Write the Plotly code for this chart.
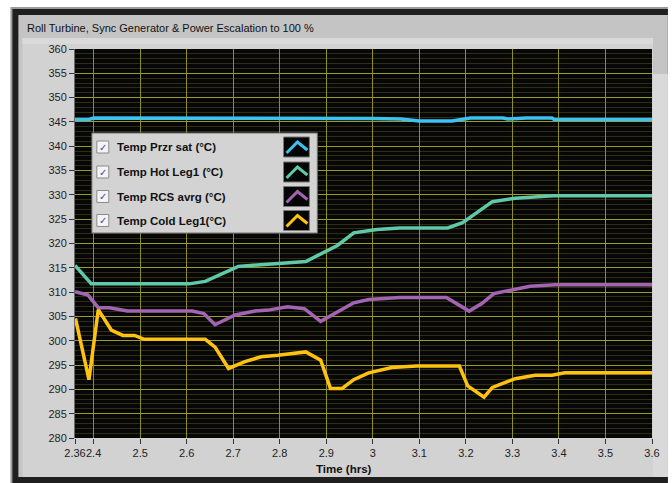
import plotly.graph_objects as go

# ---------------- data ----------------
series_names = ["Temp Przr sat (°C)", "Temp Hot Leg1 (°C)", "Temp RCS avrg (°C)", "Temp Cold Leg1(°C)"]
series_colors = ["#3cc3f2", "#5fc9a9", "#a464b4", "#ffc20e"]

przr_t = [2.36, 2.39, 2.40, 2.99, 3.00, 3.06, 3.10, 3.17, 3.21, 3.28, 3.29, 3.33, 3.385, 3.39, 3.60]
przr_v = [345.5, 345.5, 345.8, 345.8, 345.7, 345.6, 345.2, 345.2, 345.8, 345.8, 345.6, 345.8, 345.8, 345.5, 345.5]

hot_t = [2.36, 2.395, 2.605, 2.64, 2.711, 2.856, 2.924, 2.959, 3.009, 3.058, 3.161, 3.193, 3.257, 3.306, 3.388, 3.60]
hot_v = [315.5, 311.7, 311.7, 312.2, 315.3, 316.3, 319.6, 322.2, 322.9, 323.2, 323.2, 324.3, 328.6, 329.3, 329.8, 329.8]

rcs_t = [2.36, 2.388, 2.41, 2.434, 2.473, 2.612, 2.637, 2.661, 2.704, 2.747, 2.775, 2.817, 2.853,
         2.888, 2.959, 2.991, 3.058, 3.158, 3.207, 3.235, 3.26, 3.293, 3.338, 3.392, 3.60]
rcs_v = [310.1, 309.4, 306.8, 306.8, 306.1, 306.1, 305.6, 303.3, 305.3, 306.1, 306.3, 307.0, 306.6,
         304.0, 307.8, 308.5, 308.9, 308.9, 306.1, 307.7, 309.7, 310.4, 311.2, 311.5, 311.5]

cold_t = [2.361, 2.39, 2.41, 2.438, 2.463, 2.488, 2.509, 2.64, 2.661, 2.69, 2.725, 2.76, 2.796, 2.856,
          2.888, 2.909, 2.934, 2.959, 2.991, 3.041, 3.094, 3.186, 3.204, 3.239, 3.257, 3.306, 3.349,
          3.385, 3.413, 3.60]
cold_v = [304.6, 292.0, 306.4, 302.2, 301.1, 301.1, 300.3, 300.3, 298.7, 294.3, 295.7, 296.7, 297.0, 297.7,
          296.0, 290.2, 290.2, 292.0, 293.4, 294.5, 294.8, 294.8, 290.7, 288.4, 290.4, 292.2, 292.9,
          292.9, 293.4, 293.4]

x_tickvals = [2.36, 2.4, 2.5, 2.6, 2.7, 2.8, 2.9, 3.0, 3.1, 3.2, 3.3, 3.4, 3.5, 3.6]
x_ticktext = ["2.36", "2.4", "2.5", "2.6", "2.7", "2.8", "2.9", "3", "3.1", "3.2", "3.3", "3.4", "3.5", "3.6"]
y_tickvals = list(range(280, 361, 5))

chart_title = "Roll Turbine, Sync Generator & Power Escalation to 100 %"
x_title = "Time (hrs)"

# ---------------- geometry helpers ----------------
W, H = 672, 483
L, R, T, B = 75, 16, 49, 45
PW, PH = W - L - R, H - T - B


def px(x):
    return (x - L) / PW


def py(y):
    return (H - B - y) / PH


FONT = "Liberation Sans, Arial, sans-serif"

fig = go.Figure()
for t, v, name, col in zip([przr_t, hot_t, rcs_t, cold_t], [przr_v, hot_v, rcs_v, cold_v],
                           series_names, series_colors):
    fig.add_trace(go.Scatter(x=t, y=v, mode="lines", name=name,
                             line=dict(color=col, width=3.5), showlegend=False))

shapes = []


def rect(x0, y0, x1, y1, fill, line=None, lw=0, layer="below"):
    shapes.append(dict(type="rect", xref="paper", yref="paper",
                       x0=px(x0), x1=px(x1), y0=py(y1), y1=py(y0),
                       fillcolor=fill, line=dict(color=line or fill, width=lw), layer=layer))


# window frame and panels
rect(10, 7, 672, 483, "#9a9a9a")
rect(12, 9, 672, 483, "#1f1f1f")
rect(18, 15, 672, 477, "#c4c4c4")
rect(22, 38, 657, 477, "#d2d2d2")
rect(22, 38, 657, 44, "#dadada")
rect(657, 74, 672, 477, "#d9d9d9")
# plot area background
shapes.append(dict(type="rect", xref="paper", yref="paper", x0=0, x1=1, y0=0, y1=1,
                   fillcolor="#070707", line=dict(width=0), layer="below"))

annotations = [
    dict(text=chart_title, x=px(25), y=py(28), xref="paper", yref="paper", xanchor="left",
         yanchor="middle", showarrow=False, font=dict(family=FONT, size=11, color="#111111")),
    dict(text="<b>" + x_title + "</b>", x=px(346), y=py(469), xref="paper", yref="paper",
         xanchor="center", yanchor="middle", showarrow=False,
         font=dict(family=FONT, size=11.5, color="#111111")),
]

# legend box (drawn manually to mimic checkbox + chevron swatches)
rect(92, 133, 319, 233, "#d3d3d3", line="#707070", lw=1, layer="above")
row_y = [147, 172, 196.5, 220.5]
for yc, name, col in zip(row_y, series_names, series_colors):
    rect(97, yc - 6, 109, yc + 6, "#f4f4f4", line="#8a8a8a", lw=1, layer="above")
    annotations.append(dict(text="✓", x=px(103), y=py(yc), xref="paper", yref="paper",
                            xanchor="center", yanchor="middle", showarrow=False,
                            font=dict(family="DejaVu Sans", size=10, color="#2a4fb0")))
    annotations.append(dict(text="<b>" + name + "</b>", x=px(115), y=py(yc), xref="paper",
                            yref="paper", xanchor="left", yanchor="middle", showarrow=False,
                            font=dict(family=FONT, size=11.5, color="#111111")))
    rect(285, yc - 10, 311, yc + 10, "#050505", line="#777777", lw=1, layer="above")
    path = "M {} {} L {} {} L {} {}".format(px(288), py(yc + 6), px(299), py(yc - 5), px(309), py(yc + 3))
    shapes.append(dict(type="path", xref="paper", yref="paper", path=path,
                       line=dict(color=col, width=3), layer="above"))

fig.update_layout(
    width=W, height=H,
    margin=dict(l=L, r=R, t=T, b=B, pad=0),
    paper_bgcolor="white",
    plot_bgcolor="#070707",
    shapes=shapes,
    annotations=annotations,
    showlegend=False,
    font=dict(family=FONT, size=11, color="#222222"),
)
fig.update_xaxes(
    range=[2.36, 3.6], tickvals=x_tickvals, ticktext=x_ticktext, tickangle=0,
    showgrid=True, gridcolor="#8e8e24", gridwidth=1,
    ticks="outside", ticklen=5, tickcolor="#333333", tickwidth=1,
    tickfont=dict(family=FONT, size=11, color="#222222"),
    showline=False, zeroline=False,
)
fig.update_yaxes(
    range=[280, 360], tickvals=y_tickvals,
    showgrid=True, gridcolor="#9c9c2a", gridwidth=1,
    minor=dict(dtick=1, showgrid=True, gridcolor="#2e2e14", gridwidth=1),
    ticks="outside", ticklen=5, tickcolor="#333333", tickwidth=1,
    tickfont=dict(family=FONT, size=11, color="#222222"),
    showline=True, linecolor="#6a6a6a", linewidth=1, zeroline=False,
)

fig.write_html("out.html")
